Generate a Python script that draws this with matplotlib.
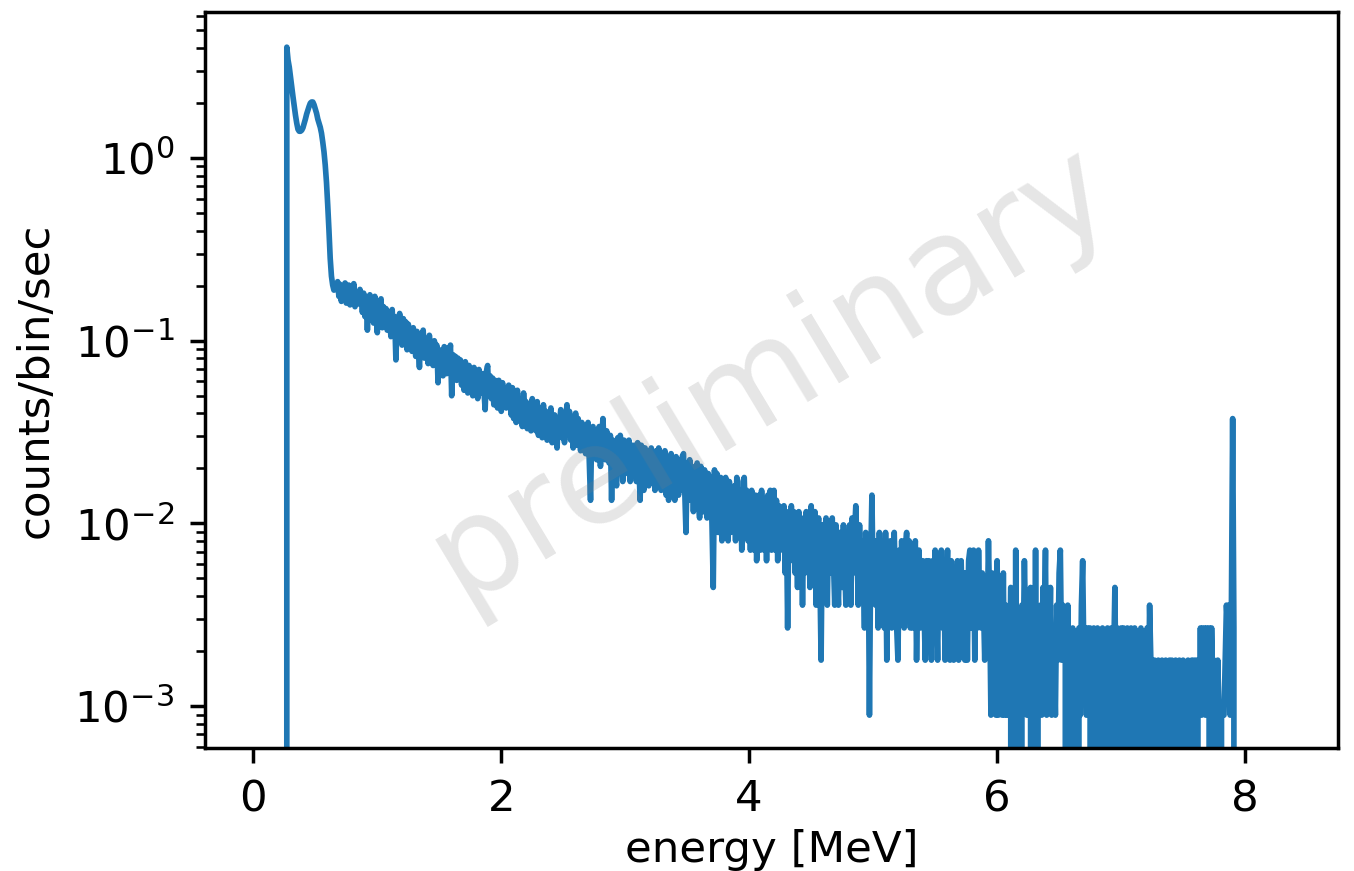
import numpy as np
import matplotlib
matplotlib.use("Agg")
import matplotlib.pyplot as plt

# spectrum settings
LIVE_TIME = 1120.0   # sec
BIN_WIDTH = 0.01     # MeV
N_BINS = 840         # 0 .. 8.39 MeV
FIRST_BIN = 27       # first filled bin, 0.27 MeV

# raw counts per bin from 0.27 MeV up to 7.91 MeV (20 bins = 0.2 MeV per row)
counts = [
    4530, 3850, 3520, 3100, 2700, 2420, 2150, 1920, 1740, 1610, 1570, 1570, 1590, 1640, 1730, 1830, 1950, 2050, 2150, 2240,
    2270, 2270, 2190, 2080, 1970, 1830, 1740, 1650, 1530, 1370, 1210, 1025, 826, 619, 451, 317, 253, 226, 212, 224,
    214, 236, 196, 228, 184, 220, 200, 232, 180, 212, 226, 176, 218, 190, 230, 172, 208, 196, 178, 214,
    198, 160, 204, 152, 192, 128, 186, 200, 150, 182, 140, 196, 158, 124, 184, 148, 190, 132, 172, 150,
    168, 128, 162, 142, 118, 166, 120, 152, 88, 146, 112, 158, 124, 106, 148, 120, 142, 100, 138, 116,
    128, 98, 132, 112, 92, 126, 104, 80, 122, 96, 128, 90, 114, 100, 84, 120, 94, 110, 82, 112,
    98, 106, 66, 100, 76, 96, 72, 104, 86, 74, 102, 90, 106, 56, 94, 70, 92, 68, 90, 74,
    88, 64, 84, 60, 86, 72, 58, 82, 66, 78, 56, 80, 62, 76, 54, 78, 64, 58, 74, 60,
    47, 76, 82, 58, 72, 54, 70, 50, 68, 60, 48, 68, 56, 46, 66, 52, 62, 48, 60, 64,
    60, 44, 62, 42, 56, 40, 60, 41, 54, 46, 38, 58, 42, 52, 37, 50, 42, 36, 54, 44,
    48, 36, 52, 34, 48, 40, 33, 50, 38, 46, 32, 44, 36, 48, 31, 42, 44, 34, 29, 42,
    40, 47, 33, 44, 31, 42, 50, 34, 46, 32, 42, 29, 40, 45, 30, 42, 34, 28, 40, 31,
    38, 27, 36, 40, 25, 15, 36, 38, 27, 36, 25, 34, 38, 23, 31, 42, 30, 25, 36, 27,
    24, 34, 15, 32, 25, 21, 18, 33, 23, 34, 26, 19, 32, 23, 30, 21, 32, 19, 29, 30,
    21, 30, 19, 31, 24, 15, 30, 21, 17, 29, 20, 28, 18, 27, 29, 19, 26, 17, 28, 19,
    29, 21, 17, 27, 19, 28, 16, 26, 15, 20, 27, 17, 25, 15, 26, 18, 16, 25, 17, 26,
    27, 17, 10, 24, 15, 25, 16, 23, 13, 22, 14, 24, 15, 12, 23, 16, 13, 22, 14, 12,
    21, 13, 20, 11, 5, 22, 14, 21, 10, 17, 20, 9, 19, 11, 20, 12, 9, 19, 10, 17,
    11, 18, 9, 20, 13, 10, 17, 8, 19, 20, 11, 17, 9, 16, 8, 17, 10, 8, 16, 7,
    10, 16, 8, 17, 11, 8, 15, 7, 16, 10, 17, 8, 13, 17, 8, 15, 7, 14, 9, 13,
    8, 14, 6, 13, 3, 12, 7, 14, 8, 13, 6, 12, 5, 13, 7, 12, 4, 11, 6, 13,
    7, 12, 5, 14, 9, 6, 13, 4, 10, 12, 6, 2, 11, 5, 10, 12, 4, 11, 6, 10,
    12, 7, 4, 11, 6, 4, 10, 8, 5, 11, 7, 4, 10, 5, 11, 4, 12, 6, 10, 14,
    8, 4, 11, 5, 9, 6, 3, 10, 5, 9, 1, 7, 16, 5, 9, 4, 8, 3, 10, 5,
    4, 9, 3, 10, 2, 8, 4, 9, 3, 7, 10, 5, 3, 2, 8, 4, 9, 5, 3, 8,
    10, 4, 9, 3, 8, 3, 6, 9, 2, 5, 8, 3, 7, 7, 4, 2, 7, 3, 7, 4,
    2, 7, 3, 8, 4, 2, 7, 4, 8, 3, 7, 2, 5, 8, 3, 2, 7, 4, 2, 6,
    3, 7, 2, 5, 7, 3, 6, 2, 6, 2, 7, 8, 3, 5, 8, 2, 7, 3, 8, 4,
    3, 6, 4, 2, 5, 3, 9, 4, 1, 6, 2, 4, 1, 7, 1, 5, 2, 1, 6, 1,
    4, 1, 3, 1, 5, 0, 2, 0, 8, 0, 3, 1, 0, 4, 2, 7, 3, 1, 4, 2,
    5, 0, 1, 0, 8, 0, 3, 2, 4, 1, 5, 3, 8, 1, 4, 2, 5, 1, 3, 2,
    1, 4, 2, 6, 8, 2, 4, 2, 3, 0, 4, 0, 2, 0, 3, 0, 1, 2, 0, 3,
    1, 4, 7, 2, 3, 1, 3, 1, 3, 0, 1, 3, 0, 2, 3, 0, 1, 0, 3, 0,
    2, 0, 3, 1, 0, 3, 0, 2, 5, 1, 3, 0, 2, 3, 1, 3, 2, 0, 3, 1,
    2, 3, 0, 1, 3, 2, 0, 2, 1, 3, 0, 2, 1, 0, 3, 1, 4, 2, 0, 1,
    2, 0, 1, 2, 0, 1, 2, 1, 0, 2, 1, 0, 2, 1, 2, 0, 1, 2, 0, 1,
    2, 1, 0, 2, 1, 0, 1, 2, 0, 1, 2, 2, 1, 2, 0, 2, 1, 3, 1, 3,
    3, 1, 3, 2, 3, 0, 3, 1, 2, 1, 0, 2, 1, 0, 1, 1, 1, 2, 4, 3,
    4, 1, 4, 42, 3,
]

energy = np.arange(N_BINS) * BIN_WIDTH
spectrum = np.zeros(N_BINS)
spectrum[FIRST_BIN:FIRST_BIN + len(counts)] = counts
rate = spectrum / LIVE_TIME

DPI = 313
fig = plt.figure(figsize=(1354 / DPI, 871 / DPI), dpi=DPI)
plt.subplots_adjust(left=0.1514, right=0.9882, bottom=0.1412, top=0.9862)
ax = plt.gca()

plt.plot(energy, rate, lw=1.3)
plt.yscale("log")
plt.xlim(-0.39, 8.75)
plt.ylim(5.9e-4, 6.3)
plt.xlabel("energy [MeV]", labelpad=2)
plt.ylabel("counts/bin/sec")

# watermark
plt.text(0.5, 0.51, "preliminary", transform=ax.transAxes, fontsize=31,
         color="gray", alpha=0.2, rotation=31, ha="center", va="center")

plt.savefig("out.png", dpi=DPI)
